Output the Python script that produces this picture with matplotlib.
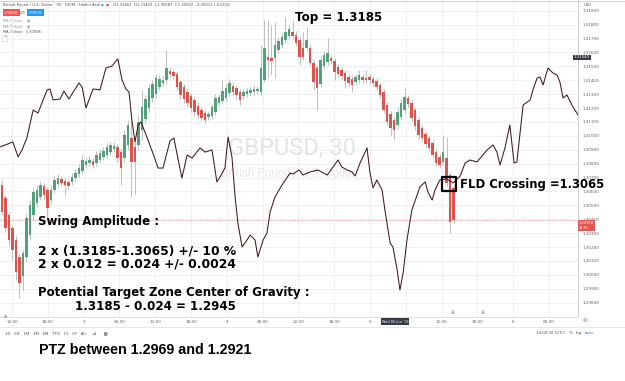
import numpy as np
import matplotlib
matplotlib.use('Agg')
import matplotlib.pyplot as plt
from matplotlib.lines import Line2D
from matplotlib.markers import MarkerStyle

W, H = 625, 381

# Heikin Ashi candles, GBPUSD 30 min
opens = [1.30646, 1.30552, 1.30430, 1.30336, 1.30250, 1.30128, 1.29992, 1.30128, 1.30286, 1.30430,
         1.30516, 1.30560, 1.30639, 1.30610, 1.30538, 1.30610, 1.30653, 1.30689, 1.30675, 1.30668,
         1.30668, 1.30696, 1.30725, 1.30747, 1.30790, 1.30804, 1.30819, 1.30804, 1.30826, 1.30848,
         1.30862, 1.30883, 1.30905, 1.30920, 1.30883, 1.30840, 1.30934, 1.30984, 1.30920, 1.30934,
         1.31042, 1.31121, 1.31200, 1.31272, 1.31301, 1.31351, 1.31380, 1.31401, 1.31466, 1.31459,
         1.31445, 1.31387, 1.31351, 1.31315, 1.31286, 1.31258, 1.31214, 1.31186, 1.31164, 1.31135,
         1.31143, 1.31171, 1.31236, 1.31251, 1.31272, 1.31308, 1.31358, 1.31344, 1.31315, 1.31286,
         1.31301, 1.31308, 1.31315, 1.31322, 1.31315, 1.31401, 1.31567, 1.31560, 1.31560, 1.31617,
         1.31653, 1.31689, 1.31718, 1.31747, 1.31725, 1.31689, 1.31632, 1.31632, 1.31632, 1.31524,
         1.31488, 1.31373, 1.31502, 1.31531, 1.31560, 1.31538, 1.31495, 1.31473, 1.31452, 1.31423,
         1.31409, 1.31387, 1.31401, 1.31423, 1.31416, 1.31423, 1.31409, 1.31394, 1.31366, 1.31315,
         1.31222, 1.31157, 1.31114, 1.31078, 1.31135, 1.31186, 1.31272, 1.31236, 1.31186, 1.31114,
         1.31056, 1.31013, 1.30984, 1.30948, 1.30883, 1.30848, 1.30812, 1.30840, 1.30718, 1.30625]
highs = [1.30682, 1.30574, 1.30452, 1.30358, 1.30279, 1.30149, 1.30178, 1.30437, 1.30538, 1.30625,
         1.30646, 1.30675, 1.30661, 1.30632, 1.30639, 1.30711, 1.30725, 1.30711, 1.30696, 1.30689,
         1.30732, 1.30761, 1.30797, 1.30862, 1.30848, 1.30855, 1.30840, 1.30891, 1.30905, 1.30920,
         1.30948, 1.30963, 1.30956, 1.30941, 1.30905, 1.31042, 1.31114, 1.31135, 1.30970, 1.31150,
         1.31330, 1.31294, 1.31373, 1.31401, 1.31445, 1.31437, 1.31430, 1.31617, 1.31495, 1.31481,
         1.31466, 1.31409, 1.31373, 1.31344, 1.31308, 1.31279, 1.31243, 1.31208, 1.31186, 1.31179,
         1.31229, 1.31301, 1.31301, 1.31401, 1.31373, 1.31409, 1.31380, 1.31366, 1.31337, 1.31337,
         1.31344, 1.31351, 1.31366, 1.31358, 1.31653, 1.31833, 1.31833, 1.31797, 1.31819, 1.31711,
         1.31740, 1.31855, 1.31797, 1.31833, 1.31754, 1.31718, 1.31747, 1.31783, 1.31660, 1.31545,
         1.31509, 1.31574, 1.31610, 1.31704, 1.31581, 1.31560, 1.31517, 1.31495, 1.31473, 1.31445,
         1.31430, 1.31445, 1.31473, 1.31445, 1.31473, 1.31445, 1.31430, 1.31416, 1.31387, 1.31337,
         1.31243, 1.31179, 1.31135, 1.31200, 1.31265, 1.31344, 1.31294, 1.31258, 1.31208, 1.31135,
         1.31078, 1.31035, 1.31006, 1.30970, 1.30905, 1.30869, 1.31006, 1.30991, 1.30740, 1.30646]
lows = [1.30430, 1.30308, 1.30214, 1.30106, 1.29963, 1.29833, 1.29891, 1.30092, 1.30250, 1.30394,
        1.30488, 1.30538, 1.30545, 1.30408, 1.30516, 1.30589, 1.30632, 1.30639, 1.30574, 1.30617,
        1.30646, 1.30675, 1.30704, 1.30725, 1.30768, 1.30783, 1.30768, 1.30783, 1.30804, 1.30826,
        1.30840, 1.30862, 1.30883, 1.30812, 1.30646, 1.30812, 1.30898, 1.30560, 1.30574, 1.30898,
        1.30970, 1.31092, 1.31171, 1.31243, 1.31272, 1.31330, 1.31358, 1.31373, 1.31423, 1.31409,
        1.31322, 1.31265, 1.31236, 1.31208, 1.31171, 1.31143, 1.31128, 1.31107, 1.31092, 1.31114,
        1.31121, 1.31150, 1.31214, 1.31229, 1.31251, 1.31286, 1.31294, 1.31265, 1.31222, 1.31265,
        1.31279, 1.31286, 1.31294, 1.31301, 1.31294, 1.31387, 1.31416, 1.31437, 1.31416, 1.31596,
        1.31632, 1.31668, 1.31696, 1.31696, 1.31646, 1.31509, 1.31545, 1.31610, 1.31502, 1.31330,
        1.31186, 1.31351, 1.31481, 1.31509, 1.31517, 1.31401, 1.31423, 1.31409, 1.31344, 1.31358,
        1.31315, 1.31366, 1.31380, 1.31380, 1.31380, 1.31380, 1.31358, 1.31330, 1.31272, 1.31164,
        1.31078, 1.31006, 1.30970, 1.31056, 1.31114, 1.31164, 1.31208, 1.31107, 1.31042, 1.30977,
        1.30963, 1.30913, 1.30891, 1.30840, 1.30783, 1.30768, 1.30790, 1.30639, 1.30300, 1.30372]
closes = [1.30452, 1.30336, 1.30250, 1.30178, 1.30021, 1.29941, 1.30156, 1.30408, 1.30502, 1.30596,
          1.30610, 1.30646, 1.30574, 1.30480, 1.30610, 1.30682, 1.30696, 1.30661, 1.30646, 1.30639,
          1.30704, 1.30732, 1.30768, 1.30826, 1.30819, 1.30826, 1.30790, 1.30862, 1.30876, 1.30891,
          1.30920, 1.30934, 1.30927, 1.30840, 1.30768, 1.31006, 1.31078, 1.30812, 1.30812, 1.31100,
          1.31208, 1.31265, 1.31344, 1.31373, 1.31416, 1.31409, 1.31401, 1.31488, 1.31445, 1.31430,
          1.31351, 1.31294, 1.31265, 1.31236, 1.31200, 1.31171, 1.31150, 1.31128, 1.31114, 1.31157,
          1.31208, 1.31272, 1.31279, 1.31322, 1.31344, 1.31380, 1.31315, 1.31294, 1.31258, 1.31315,
          1.31322, 1.31330, 1.31337, 1.31337, 1.31488, 1.31632, 1.31545, 1.31538, 1.31653, 1.31682,
          1.31711, 1.31747, 1.31768, 1.31718, 1.31668, 1.31567, 1.31567, 1.31689, 1.31524, 1.31387,
          1.31344, 1.31545, 1.31581, 1.31596, 1.31538, 1.31459, 1.31445, 1.31430, 1.31394, 1.31380,
          1.31366, 1.31423, 1.31437, 1.31401, 1.31401, 1.31401, 1.31380, 1.31351, 1.31294, 1.31186,
          1.31100, 1.31056, 1.31042, 1.31171, 1.31236, 1.31279, 1.31229, 1.31128, 1.31071, 1.31006,
          1.30984, 1.30941, 1.30913, 1.30862, 1.30804, 1.30790, 1.30883, 1.30661, 1.30380, 1.30394]

# FLD line (bar position, price), projected forward past the last candle
fld_bar = [-0.6, 0.9, 3.1, 4.6, 5.7, 7.1, 8.9, 10.3, 11.4, 12.9, 13.7, 14.6, 16.6, 17.7, 19.1, 22.0,
           22.9, 24.0, 26.0, 28.0, 29.7, 31.4, 33.1, 34.3, 35.4, 36.3, 37.1, 38.0, 38.9, 39.7, 41.4,
           43.1, 44.6, 46.0, 48.0, 49.1, 51.4, 52.9, 54.3, 56.6, 58.0, 60.0, 61.4, 62.3, 63.7, 64.6,
           65.7, 66.6, 67.4, 68.6, 70.0, 70.9, 72.3, 73.1, 74.6, 75.7, 76.6, 78.0, 80.0, 82.3, 83.1,
           84.9, 86.0, 88.0, 90.3, 92.9, 94.6, 96.0, 97.1, 98.6, 100.0, 100.9, 102.3, 104.3, 105.1,
           106.0, 107.1, 108.6, 109.4, 110.9, 111.7, 112.9, 113.7, 114.6, 115.7, 117.1, 119.4, 120.9,
           121.7, 122.9, 123.7, 125.1, 127.1, 128.9, 130.9, 132.3, 133.7, 135.7, 137.4, 138.6, 140.3,
           141.4, 142.3, 143.7, 145.1, 146.3, 147.1, 148.9, 150.9, 151.7, 152.9, 153.7, 154.6, 156.0,
           157.4, 158.6, 159.4, 160.3, 161.4, 163.1, 164.6]
fld_price = [1.30920, 1.30934, 1.30956, 1.30848, 1.30898, 1.30984, 1.31186, 1.31164, 1.31236, 1.31330,
             1.31337, 1.31258, 1.31265, 1.31322, 1.31265, 1.31380, 1.31351, 1.31200, 1.31337, 1.31330,
             1.31488, 1.31502, 1.31553, 1.31401, 1.31337, 1.31315, 1.31114, 1.30956, 1.31078, 1.31100,
             1.30991, 1.30876, 1.30768, 1.30768, 1.30963, 1.30984, 1.30696, 1.30862, 1.30840, 1.30913,
             1.30883, 1.30898, 1.30668, 1.30704, 1.30768, 1.30991, 1.30848, 1.30560, 1.30372, 1.30200,
             1.30250, 1.30286, 1.30250, 1.30128, 1.30250, 1.30300, 1.30452, 1.30560, 1.30646, 1.30732,
             1.30725, 1.30754, 1.30718, 1.30740, 1.30754, 1.30718, 1.30776, 1.30826, 1.30776, 1.30754,
             1.30740, 1.30711, 1.30804, 1.30913, 1.30740, 1.30625, 1.30682, 1.30610, 1.30466, 1.30228,
             1.30200, 1.30035, 1.29891, 1.30013, 1.30250, 1.30466, 1.30632, 1.30668, 1.30596, 1.30538,
             1.30610, 1.30682, 1.30689, 1.30661, 1.30711, 1.30804, 1.30826, 1.30812, 1.30862, 1.30898,
             1.30934, 1.30883, 1.30790, 1.30913, 1.31078, 1.30804, 1.30812, 1.31222, 1.31258, 1.31330,
             1.31416, 1.31423, 1.31366, 1.31488, 1.31452, 1.31437, 1.31387, 1.31272, 1.31294, 1.31208,
             1.31150]

# the label under the crosshair date box is hidden in the screenshot
time_labels = ['12:00', '18:00', '3', '06:00', '12:00', '18:00', '4', '06:00',
               '12:00', '18:00', '5', '', '12:00', '18:00', '6', '06:00']
last_price = 1.30394
ma_label_price = 1.31540
cross_bar = 127.7
cross_price = 1.3065

GREEN = '#53a07b'
RED = '#e0524a'


def fx(x):
    return x / W


def fy(y):
    return 1 - y / H


fig = plt.figure(figsize=(W / 100, H / 100), dpi=100)
ax = fig.add_axes([0, fy(317), fx(578), 317 / H])
ax.set_xlim(-0.57, 164.57)
ax.set_ylim(1.296965, 1.31977)
ax.set_axisbelow(True)

# grid + axes look of the TradingView pane
price_ticks = np.round(np.arange(1.298, 1.3195, 0.001), 3)
ax.set_yticks(price_ticks)
ax.set_yticklabels([f'{t:.5f}' for t in price_ticks])
ax.yaxis.tick_right()
ax.set_xticks(2.86 + 10.23 * np.arange(len(time_labels)))
ax.set_xticklabels(time_labels)
ax.tick_params(axis='y', length=0, pad=3.5, labelsize=3.0, labelcolor='#5d606b')
ax.tick_params(axis='x', length=0, pad=2.2, labelsize=3.0, labelcolor='#5d606b')
ax.grid(True, color='#eceef2', lw=0.6)
for side in ['left', 'top']:
    ax.spines[side].set_visible(False)
ax.spines['right'].set_color('#c9ccd3')
ax.spines['bottom'].set_color('#dadde3')
ax.spines['right'].set_linewidth(0.7)
ax.spines['bottom'].set_linewidth(0.7)

# watermark
ax.text(fx(292), fy(148), 'GBPUSD, 30', transform=fig.transFigure, ha='center', va='center',
        fontsize=17, family='Roboto', color='#e2e4e9', zorder=0.6)
ax.text(fx(288), fy(173), 'British Pound / U.S. Dollar', transform=fig.transFigure,
        ha='center', va='center', fontsize=8.5, family='Roboto', color='#e6e8ec', zorder=0.6)

# candles
idx = np.arange(len(opens))
o = np.array(opens)
c = np.array(closes)
colors = np.where(c >= o, GREEN, RED)
ax.vlines(idx, lows, highs, color='#b4b4b4', lw=0.6, zorder=2)
ax.bar(idx, np.maximum(np.abs(c - o), 0.00003), bottom=np.minimum(o, c), width=0.74,
       color=colors, lw=0, zorder=3)

# last price line
ax.axhline(last_price, color='#eab0ad', lw=0.7, ls=(0, (1.5, 1)), zorder=1)

# FLD
ax.plot(fld_bar, fld_price, color='#431818', lw=0.75, zorder=4)

# crossing box
ax.plot(cross_bar, cross_price, marker=MarkerStyle('s', joinstyle='round'), ms=10,
        mfc='none', mec='black', mew=1.6, zorder=6, clip_on=False)

# header (TradingView legend)
small = dict(fontsize=2.7, color='#4a4d57', va='center')
fig.text(fx(3), fy(5), 'British Pound / U.S. Dollar · 30 · FXCM · Heikin Ashi', **small)
fig.text(fx(101), fy(5), '●', fontsize=2.3, color='#26a69a', va='center')
fig.text(fx(106), fy(5), '■', fontsize=2.3, color='#ef5350', va='center')
fig.text(fx(113), fy(5), 'O1.31462  H1.31463  L1.30587  C1.30587  -0.00011 (-0.01%)', **small)
fig.text(fx(4), fy(12.5), '1.30587', fontsize=2.6, color='white', va='center',
         bbox=dict(fc='#ef5350', ec='none', pad=0.9))
fig.text(fx(20), fy(12.5), '0.5', fontsize=2.6, color='#4a4d57', va='center')
fig.text(fx(28), fy(12.5), '1.30591', fontsize=2.6, color='white', va='center',
         bbox=dict(fc='#2196f3', ec='none', pad=0.9))
fig.text(fx(3), fy(20), 'MA 7 close    ◉', fontsize=2.6, color='#9598a1', va='center')
fig.text(fx(3), fy(26), 'MA 7 close    ◉', fontsize=2.6, color='#9598a1', va='center')
fig.text(fx(3), fy(32), 'MA 7 close   1.30596', fontsize=2.6, color='#4a4d57', va='center')
fig.text(fx(3), fy(38), '⌃', fontsize=3, color='#4a4d57', va='center',
         bbox=dict(fc='white', ec='#cfd2d8', lw=0.4, pad=0.6))

# right scale labels
fig.text(fx(584), fy(4.5), 'USD', fontsize=2.6, color='#4a4d57', va='center')
fig.text(fx(573.5), fy(57.5), f'{ma_label_price:.5f}', fontsize=2.8, color='white', va='center',
         bbox=dict(fc='#363a45', ec='none', pad=0.7))
fig.text(fx(579), fy(225.5), f'{last_price:.5f}\n12:51', fontsize=2.6, color='white',
         va='center', linespacing=1.1, bbox=dict(fc='#e4574f', ec='none', pad=0.8))
fig.text(fx(583), fy(320), '⚙', fontsize=3.5, color='#6a6d78', va='center')

# time axis crosshair label + bottom bar
fig.text(fx(395), fy(321.5), "Wed 05 Jun '19", ha='center', va='center', fontsize=2.5,
         color='white', bbox=dict(fc='#363a45', ec='none', pad=0.8))
fig.text(fx(453), fy(313), '⊕', fontsize=3.5, color='#a0866e', ha='center', va='center')
fig.text(fx(483), fy(313), '⊕', fontsize=3.5, color='#a0866e', ha='center', va='center')
fig.text(fx(6), fy(316), '▲', fontsize=3, color='#5b9bd5', ha='center', va='center')
fig.add_artist(Line2D([0, fx(625)], [fy(327), fy(327)], color='#e0e3eb', lw=0.6))
fig.add_artist(Line2D([0, fx(625)], [fy(0.6), fy(0.6)], color='#d1d4dc', lw=0.8))
fig.text(fx(5), fy(333), '1D   5D   1M   3M   6M   YTD   1Y   5Y   All      ⇄      ▦',
         fontsize=2.8, color='#4a4d57', va='center')
fig.text(fx(536), fy(333), '14:00:50 (UTC)', fontsize=2.8, color='#4a4d57', va='center')
fig.text(fx(569), fy(333), '%', fontsize=2.8, color='#4a4d57', va='center')
fig.text(fx(576), fy(333), 'log', fontsize=2.8, color='#4a4d57', va='center')
fig.text(fx(585), fy(333), 'auto', fontsize=2.8, color='#2962ff', va='center')

# annotations
note = dict(fontweight='bold', family='DejaVu Sans', color='black', va='center', zorder=10)
fig.text(fx(295), fy(18), 'Top = 1.3185', fontsize=8.6, **note)
fig.text(fx(460), fy(184.5), 'FLD Crossing =1.3065', fontsize=8.4, **note)
fig.text(fx(38), fy(222), 'Swing Amplitude :', fontsize=8.5, **note)
fig.text(fx(38), fy(250.5), '2 x (1.3185-1.3065) +/- 10 %', fontsize=8.8, **note)
fig.text(fx(38), fy(264), '2 x 0.012 = 0.024 +/- 0.0024', fontsize=8.8, **note)
fig.text(fx(38), fy(292.5), 'Potential Target Zone Center of Gravity :', fontsize=8.45, **note)
fig.text(fx(75), fy(306), '1.3185 - 0.024 = 1.2945', fontsize=8.6, **note)
fig.text(fx(39), fy(350), 'PTZ between 1.2969 and 1.2921', fontsize=10.3, fontweight='bold',
         family='Liberation Sans', color='black', va='center')

fig.savefig('out.png', dpi=100)
